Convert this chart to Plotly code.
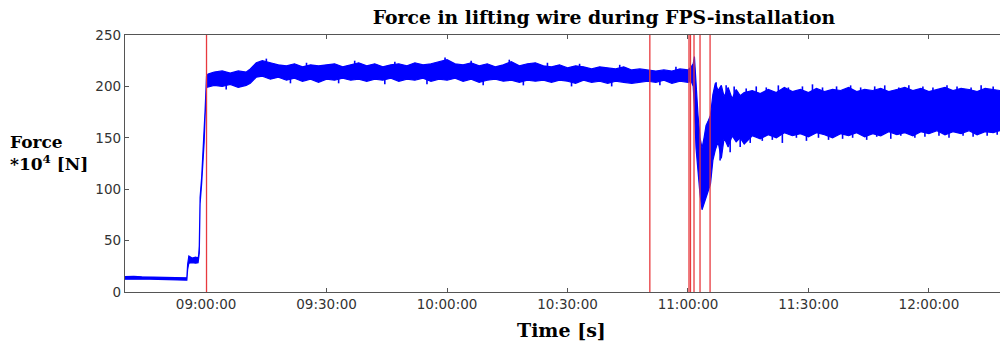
import numpy as np
import pandas as pd
import plotly.graph_objects as go

# time in minutes relative to 09:00:00, with lower / upper envelope of the noisy force signal (*10^4 N)
t_min = [-20.2, -18, -16, -14, -12, -10, -8, -6, -4.8, -4.6, -4.3, -3.5, -2.6, -2.0, -1.85, -1.7, -1.5, -1.1, -0.5, -0.25, 0.1,
         0.5, 2, 4, 6, 8, 10, 11, 12.5, 14, 16, 18, 20, 22, 24, 26, 28, 30, 32, 34, 36, 38, 40, 42, 44, 46, 48, 50,
         52, 54, 56, 58, 60, 62, 64, 66, 68, 70, 72, 74, 76, 78, 80, 82, 84, 86, 88, 90, 92, 94, 96, 98, 100,
         102, 104, 106, 108, 110, 112, 114, 116, 118, 120,
         120.8, 121.3, 121.6, 122.0, 122.5, 123.0, 123.5, 124.0, 124.5, 125.0, 125.6, 126.2, 126.8, 127.5, 128.3,
         129.0, 130.0, 131.0, 132.0, 133.0, 134.0, 136, 138, 140, 142, 144, 146, 148, 150, 152, 154, 156, 158,
         160, 162, 164, 166, 168, 170, 172, 174, 176, 178, 180, 182, 184, 186, 188, 190, 192, 194, 196, 197.7]

force_low = [12.5, 12.8, 12.3, 12.5, 12.2, 12.0, 11.8, 11.5, 11.5, 22, 28, 28.5, 28, 28.5, 31, 38, 86, 106, 145, 171, 199,
             199, 201, 200, 202, 199, 201, 203, 209, 210, 207, 209, 206, 208, 205, 207, 204, 207, 206, 208, 206, 207,
             205, 207, 206, 208, 205, 207, 206, 208, 205, 207, 206, 208, 205, 207, 204, 206, 207, 205, 206, 204, 206,
             205, 206, 204, 206, 205, 203, 206, 204, 205, 203, 205, 204, 203, 204, 205, 204, 206, 203, 205, 204,
             205, 200, 180, 140, 118, 95, 80, 84, 90, 98, 105, 128, 138, 146, 130,
             150, 141, 152, 146, 150, 144, 152, 149, 153, 150, 155, 152, 154, 151, 155, 153, 150, 154,
             152, 155, 151, 154, 152, 156, 153, 155, 152, 156, 154, 157, 153, 156, 154, 157, 153, 156, 155, 157]

force_high = [15.0, 15.3, 14.8, 14.6, 14.5, 14.2, 13.8, 13.6, 13.8, 27, 35, 33, 34, 33, 36, 45, 92, 112, 151, 177, 210,
              212, 214, 215, 213, 215, 214, 217, 223, 225, 223, 221, 220, 222, 219, 221, 220, 221, 222, 219, 221, 223,
              220, 222, 219, 221, 222, 220, 223, 221, 222, 224, 226, 222, 221, 223, 220, 222, 219, 221, 224, 220, 222,
              223, 220, 219, 221, 218, 220, 219, 217, 219, 218, 217, 219, 216, 217, 216, 215, 216, 215, 217, 216,
              219, 222, 229, 200, 172, 150, 140, 150, 162, 166, 172, 192, 203, 196, 201,
              190, 199, 188, 197, 191, 194, 196, 193, 197, 194, 199, 195, 197, 194, 198, 195, 197, 196,
              199, 195, 197, 196, 198, 195, 197, 199, 196, 198, 195, 197, 199, 196, 198, 197, 195, 198, 197, 196]

# isolated noise spikes sticking out of the band (minutes, force)
spike_up_min = [15, 25, 37, 47, 59.5, 66, 75.5, 85, 93, 103, 117,
                127, 129.5, 131.5, 134.5, 137, 139.5, 142.5, 145, 148.5, 151, 153.5, 157, 160.5, 163,
                166.5, 169, 172.5, 175, 178.5, 181, 184.5, 187, 190.5, 193, 196]
spike_up_val = [227, 223, 225, 224, 228, 225, 226, 223, 222, 221, 219,
                204, 201, 200, 198, 200, 199, 201, 199, 200, 202, 199, 200, 201, 199,
                200, 201, 199, 201, 200, 199, 201, 200, 199, 201, 200]
spike_dn_min = [5, 21, 33, 44.5, 55, 69, 79, 91, 101, 113,
                128, 130.5, 133, 135.5, 138.5, 141, 143.5, 147, 149.5, 152.5, 155, 158.5, 161, 164.5,
                167, 170.5, 173, 176.5, 179, 182.5, 185, 188.5, 191, 194.5, 197]
spike_dn_val = [197, 203, 203, 202, 202, 201, 201, 200, 200, 201,
                128, 136, 141, 145, 147, 148, 145, 150, 147, 150, 148, 149, 150, 148,
                151, 149, 152, 150, 151, 152, 150, 152, 151, 152, 153]

# red event markers (minutes relative to 09:00:00)
event_min = [0.1, 110.5, 120.25, 120.62, 121.5, 123.0, 125.5]

x_range_min = [-20.2, 197.7]
y_ticks = [0, 50, 100, 150, 200, 250]

base = pd.Timestamp("2013-06-01 09:00:00")
def to_time(m):
    return base + pd.to_timedelta(m, unit="m")

times = [to_time(m) for m in t_min]
BLUE = "#0000ff"

fig = go.Figure()
fig.add_trace(go.Scatter(
    x=times + times[::-1],
    y=force_high + force_low[::-1],
    fill="toself", fillcolor=BLUE,
    line=dict(color=BLUE, width=1.2),
    mode="lines", hoverinfo="skip", showlegend=False,
))

# spikes: vertical strokes from the band centre to the spike value
centre = (np.array(force_low) + np.array(force_high)) / 2
sx, sy = [], []
for m, v in list(zip(spike_up_min, spike_up_val)) + list(zip(spike_dn_min, spike_dn_val)):
    c = float(np.interp(m, t_min, centre))
    sx += [to_time(m), to_time(m), None]
    sy += [c, v, None]
fig.add_trace(go.Scatter(x=sx, y=sy, mode="lines", line=dict(color=BLUE, width=1.6),
                         hoverinfo="skip", showlegend=False))

for m in event_min:
    fig.add_vline(x=to_time(m), line=dict(color="#e8393e", width=1.3), layer="above")

tick_font = dict(family="DejaVu Sans", size=13.5, color="#333333")
fig.update_layout(
    width=1000, height=344,
    margin=dict(l=125, r=0, t=35, b=52),
    paper_bgcolor="white", plot_bgcolor="white",
    showlegend=False,
    title=dict(text="<b>Force in lifting wire during FPS-installation</b>",
               font=dict(family="DejaVu Serif", size=18.8, color="black"),
               x=0.604, xanchor="center", xref="container",
               y=1 - 17 / 344, yanchor="middle", yref="container"),
    xaxis=dict(type="date", range=[to_time(x_range_min[0]), to_time(x_range_min[1])],
               tick0=base, dtick=30 * 60 * 1000, tickformat="%H:%M:%S",
               showgrid=False, zeroline=False,
               showline=True, linecolor="#555555", linewidth=1.3, mirror="ticks",
               ticks="inside", ticklen=4, tickcolor="#555555", tickfont=tick_font),
    yaxis=dict(range=[0, 250], tickvals=y_ticks,
               showgrid=False, zeroline=False,
               showline=True, linecolor="#555555", linewidth=1.3,
               ticks="inside", ticklen=4, tickcolor="#555555", tickfont=tick_font),
)

fig.add_annotation(text="<b>Force<br>*10<sup>4</sup> [N]</b>", xref="paper", yref="paper",
                   x=(8 - 125) / 875, y=(292 - 153) / 257, xanchor="left", yanchor="middle",
                   align="left", showarrow=False,
                   font=dict(family="DejaVu Serif", size=17, color="black"))
fig.add_annotation(text="<b>Time [s]</b>", xref="paper", yref="paper",
                   x=(561 - 125) / 875, y=(292 - 330) / 257, xanchor="center", yanchor="middle",
                   showarrow=False,
                   font=dict(family="DejaVu Serif", size=19, color="black"))

fig.write_html("out.html")
